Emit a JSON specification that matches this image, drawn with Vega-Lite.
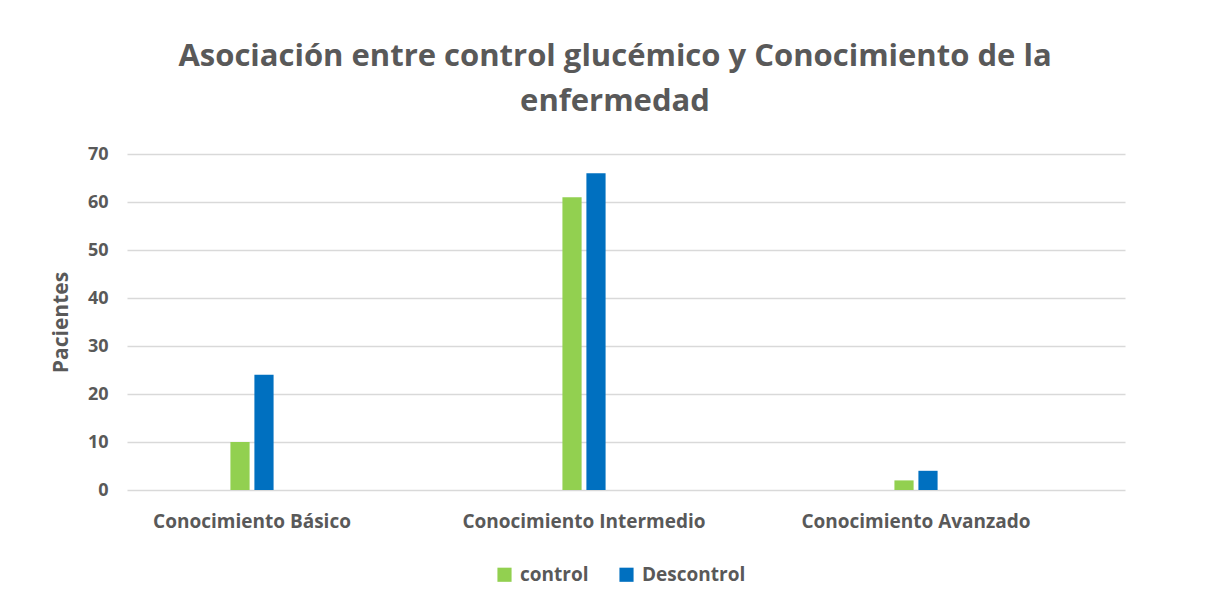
{
  "$schema": "https://vega.github.io/schema/vega-lite/v6.json",
  "autosize": "none",
  "width": 998,
  "height": 336,
  "padding": {"left": 127, "top": 154, "right": 98, "bottom": 117},
  "background": "white",
  "title": {
    "text": ["Asociación entre control glucémico y Conocimiento de la", "enfermedad"],
    "fontSize": 31,
    "font": "Open Sans",
    "fontWeight": "bold",
    "color": "#595959",
    "anchor": "middle",
    "dx": -11,
    "offset": 27,
    "lineHeight": 45
  },
  "data": {
    "values": [
      {"categoria": "Conocimiento Básico", "serie": "control", "pacientes": 10},
      {"categoria": "Conocimiento Básico", "serie": "Descontrol", "pacientes": 24},
      {"categoria": "Conocimiento Intermedio", "serie": "control", "pacientes": 61},
      {"categoria": "Conocimiento Intermedio", "serie": "Descontrol", "pacientes": 66},
      {"categoria": "Conocimiento Avanzado", "serie": "control", "pacientes": 2},
      {"categoria": "Conocimiento Avanzado", "serie": "Descontrol", "pacientes": 4}
    ]
  },
  "mark": {"type": "bar"},
  "encoding": {
    "x": {
      "field": "categoria",
      "type": "nominal",
      "sort": ["Conocimiento Básico", "Conocimiento Intermedio", "Conocimiento Avanzado"],
      "scale": {"paddingInner": 0.87, "paddingOuter": 0.438, "align": 0.3556},
      "axis": {
        "title": null,
        "labelAngle": 0,
        "labelFontSize": 19,
        "labelFont": "Open Sans",
        "labelFontWeight": "bold",
        "labelColor": "#595959",
        "labelPadding": 22,
        "labelLimit": 400,
        "ticks": false,
        "domain": false,
        "grid": false
      }
    },
    "xOffset": {
      "field": "serie",
      "type": "nominal",
      "sort": ["control", "Descontrol"],
      "scale": {"paddingInner": 0.2}
    },
    "y": {
      "field": "pacientes",
      "type": "quantitative",
      "scale": {"domain": [0, 70], "nice": false},
      "axis": {
        "title": "Pacientes",
        "titleFontSize": 21,
        "titleFont": "Open Sans",
        "titleFontWeight": "bold",
        "titleColor": "#595959",
        "titlePadding": 16,
        "values": [0, 10, 20, 30, 40, 50, 60, 70],
        "labelFontSize": 18,
        "labelFont": "Open Sans",
        "labelFontWeight": "bold",
        "labelColor": "#595959",
        "labelPadding": 19,
        "ticks": false,
        "domain": false,
        "grid": true,
        "gridColor": "#d9d9d9",
        "gridWidth": 1.5
      }
    },
    "color": {
      "field": "serie",
      "type": "nominal",
      "sort": ["control", "Descontrol"],
      "scale": {"domain": ["control", "Descontrol"], "range": ["#92D050", "#0070C0"]},
      "legend": {
        "title": null,
        "orient": "none",
        "legendX": 368,
        "legendY": 411,
        "direction": "horizontal",
        "symbolType": "square",
        "symbolSize": 200,
        "symbolStrokeWidth": 0,
        "labelFontSize": 19,
        "labelFont": "Open Sans",
        "labelFontWeight": "bold",
        "labelColor": "#595959",
        "labelOffset": 6,
        "columnPadding": 28
      }
    }
  },
  "config": {
    "view": {"stroke": null}
  }
}
